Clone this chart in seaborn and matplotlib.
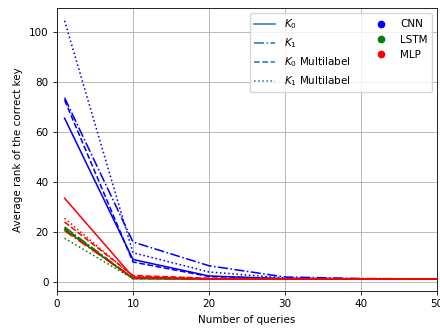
import matplotlib
matplotlib.use("Agg")
import matplotlib.pyplot as plt
from matplotlib.lines import Line2D
import seaborn as sns
import pandas as pd

queries = [1, 10, 20, 30, 40, 50]

models = ["CNN", "LSTM", "MLP"]
model_colors = ["blue", "green", "red"]

variants = [r"$K_0$", r"$K_1$", r"$K_0$ Multilabel", r"$K_1$ Multilabel"]
variant_styles = ["-", "-.", "--", ":"]

cnn_k0 = [65.5, 9.0, 2.4, 1.3, 1.2, 1.2]
cnn_k1 = [73.7, 16.0, 6.5, 2.0, 1.4, 1.2]
cnn_k0_ml = [72.8, 8.0, 2.2, 1.3, 1.2, 1.2]
cnn_k1_ml = [104.5, 11.7, 4.0, 1.6, 1.3, 1.2]

lstm_k0 = [21.0, 1.4, 1.2, 1.2, 1.2, 1.2]
lstm_k1 = [22.0, 1.5, 1.2, 1.2, 1.2, 1.2]
lstm_k0_ml = [21.6, 1.4, 1.2, 1.2, 1.2, 1.2]
lstm_k1_ml = [17.5, 1.3, 1.2, 1.2, 1.2, 1.2]

mlp_k0 = [33.5, 2.0, 1.3, 1.2, 1.2, 1.2]
mlp_k1 = [20.5, 1.6, 1.2, 1.2, 1.2, 1.2]
mlp_k0_ml = [24.0, 2.6, 1.5, 1.2, 1.2, 1.2]
mlp_k1_ml = [25.5, 2.2, 1.3, 1.2, 1.2, 1.2]

series = {
    "CNN": [cnn_k0, cnn_k1, cnn_k0_ml, cnn_k1_ml],
    "LSTM": [lstm_k0, lstm_k1, lstm_k0_ml, lstm_k1_ml],
    "MLP": [mlp_k0, mlp_k1, mlp_k0_ml, mlp_k1_ml],
}

plt.rcParams.update({
    "font.family": ["DejaVu Sans"],
    "font.size": 7.5,
    "axes.linewidth": 0.6,
    "xtick.major.width": 0.6,
    "ytick.major.width": 0.6,
    "xtick.major.size": 2.6,
    "ytick.major.size": 2.6,
    "grid.linewidth": 0.6,
    "lines.linewidth": 1.125,
})

fig = plt.figure(figsize=(4.4, 3.29), dpi=100)
ax = fig.add_axes([0.1295, 0.1155, 0.8636, 0.8602])

for m, col in zip(models, model_colors):
    for vals, ls in zip(series[m], variant_styles):
        df = pd.DataFrame({"q": queries, "r": vals})
        sns.lineplot(data=df, x="q", y="r", color=col, linestyle=ls,
                     linewidth=1.125, ax=ax, legend=False)

ax.set_xlim(0, 50)
ax.set_ylim(-3.6, 109.6)
ax.set_xticks([0, 10, 20, 30, 40, 50])
ax.set_yticks([0, 20, 40, 60, 80, 100])
ax.grid(True, color="#b0b0b0")
ax.set_xlabel("Number of queries")
ax.set_ylabel("Average rank of the correct key")

handles = [Line2D([0], [0], color="C0", linestyle=ls, linewidth=1.125)
           for ls in variant_styles]
handles += [Line2D([0], [0], color=c, marker="o", linestyle="none",
                   markersize=4.5) for c in model_colors]
labels = variants + models
ax.legend(handles, labels, loc="upper right", ncol=2, fontsize=7.5)

fig.savefig("out.png", dpi=100)
